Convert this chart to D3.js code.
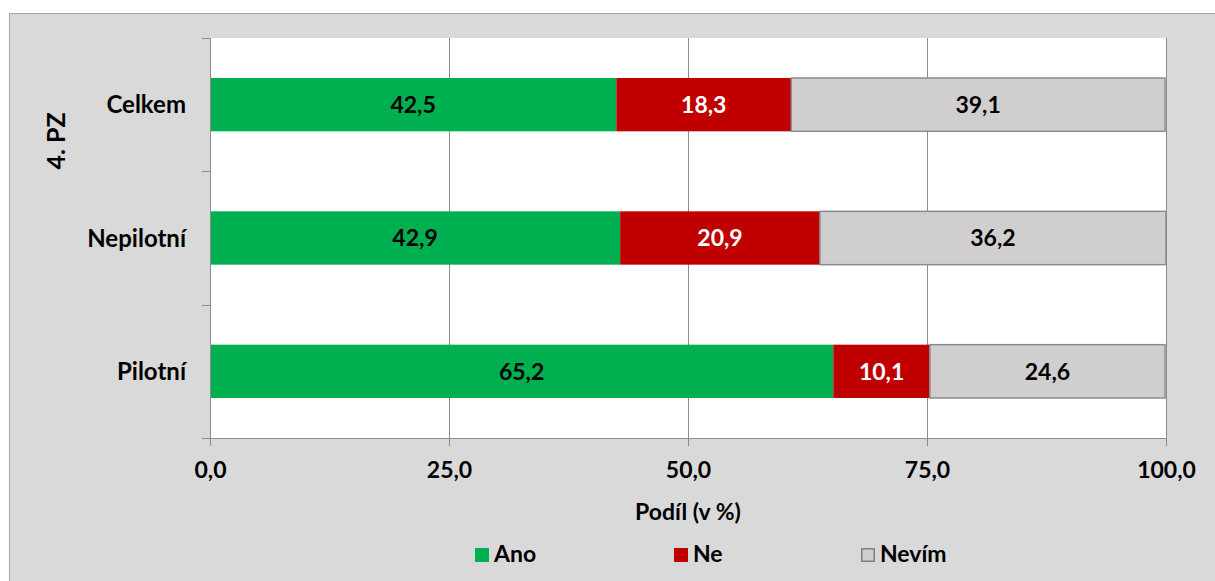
<!DOCTYPE html>
<html><head><meta charset="utf-8">
<script src="https://cdn.jsdelivr.net/npm/d3@7"></script>
<style>body{margin:0;background:#fff;}svg{display:block;font-family:Lato,"Open Sans",sans-serif;font-weight:bold;}</style>
</head><body>
<svg id="c" width="1215" height="581"></svg>
<script>
const categories = ["Celkem", "Nepilotní", "Pilotní"];
const seriesNames = ["Ano", "Ne", "Nevím"];
const ano = [42.5, 42.9, 65.2];
const ne = [18.3, 20.9, 10.1];
const nevim = [39.1, 36.2, 24.6];
const xTicks = [0, 25, 50, 75, 100];
const groupLabel = "4. PZ";
const xTitle = "Podíl (v %)";

const colors = {Ano:"#00b050", Ne:"#c00000", "Nevím":"#d0cece"};
const strokes = {Ano:"none", Ne:"none", "Nevím":"#8c8c8c"};
const labelColors = {Ano:"#000", Ne:"#fff", "Nevím":"#000"};
const FS = 23;

const svg = d3.select("#c");
svg.append("rect").attr("x",9.5).attr("y",13.5).attr("width",1220).attr("height",580)
  .attr("fill","#d9d9d9").attr("stroke","#a6a6a6");

const m = {l:210, r:1166, t:38, b:438};
const x = d3.scaleLinear().domain([0,100]).range([m.l, m.r]);
const y = d3.scaleBand().domain(categories).range([m.t, m.b]).paddingInner(0.6).paddingOuter(0.3);

svg.append("rect").attr("x",m.l).attr("y",m.t).attr("width",m.r-m.l).attr("height",m.b-m.t).attr("fill","#fff");

// gridlines
svg.append("g").selectAll("line").data(xTicks.slice(1)).join("line")
  .attr("x1",d=>x(d)+0.5).attr("x2",d=>x(d)+0.5).attr("y1",m.t).attr("y2",m.b)
  .attr("stroke","#8c8c8c").attr("stroke-width",1);

// data
const rows = categories.map((c,i)=>({cat:c, vals:[ano[i], ne[i], nevim[i]]}));
const stackData = rows.map(r=>{let acc=0; return r.vals.map((v,j)=>{const s=acc; acc+=v; return {cat:r.cat, name:seriesNames[j], x0:s, x1:acc, v}})}).flat();

const bars = svg.append("g");
bars.selectAll("rect").data(stackData).join("rect")
  .attr("x",d=>x(d.x0)).attr("width",d=>x(d.x1)-x(d.x0))
  .attr("y",d=>y(d.cat)).attr("height",y.bandwidth())
  .attr("fill",d=>colors[d.name]).attr("stroke",d=>strokes[d.name]).attr("stroke-width",1.5);
bars.selectAll("text").data(stackData).join("text")
  .attr("x",d=>(x(d.x0)+x(d.x1))/2).attr("y",d=>y(d.cat)+y.bandwidth()/2)
  .attr("dy","0.36em").attr("text-anchor","middle").attr("font-size",FS)
  .attr("fill",d=>labelColors[d.name]).text(d=>d3.format(".1f")(d.v).replace(".",","));

// axes
const axColor="#8c8c8c";
const gx = svg.append("g").attr("transform",`translate(0,${m.b})`)
  .call(d3.axisBottom(x).tickValues(xTicks).tickSize(8).tickSizeOuter(0).tickFormat(d=>d3.format(".1f")(d).replace(".",",")));
gx.select(".domain").attr("stroke",axColor).attr("d",`M${m.l},0.5H${m.r}`);
gx.selectAll(".tick line").attr("stroke",axColor);
gx.selectAll("text").attr("font-size",FS).attr("fill","#000").attr("font-family","Lato,sans-serif")
  .attr("y",40).attr("dy",0);

const yTickPos = [m.t, (m.t*2+m.b)/3, (m.t+m.b*2)/3, m.b];
svg.append("line").attr("x1",m.l+0.5).attr("x2",m.l+0.5).attr("y1",m.t).attr("y2",m.b+8).attr("stroke",axColor);
svg.append("g").selectAll("line").data(yTickPos).join("line")
  .attr("x1",m.l-8).attr("x2",m.l).attr("y1",d=>Math.round(d)+0.5).attr("y2",d=>Math.round(d)+0.5).attr("stroke",axColor);
svg.append("g").selectAll("text").data(categories).join("text")
  .attr("x",186).attr("y",d=>y(d)+y.bandwidth()/2).attr("dy","0.36em").attr("text-anchor","end")
  .attr("font-size",FS+1).attr("fill","#000").text(d=>d);

svg.append("text").attr("transform","translate(65,141) rotate(-90)").attr("text-anchor","middle")
  .attr("font-size",25).text(groupLabel);

svg.append("text").attr("x",(m.l+m.r)/2).attr("y",520).attr("text-anchor","middle").attr("font-size",FS).text(xTitle);

// legend
const legX = [475, 674, 861];
const lg = svg.append("g").selectAll("g").data(seriesNames).join("g")
  .attr("transform",(d,i)=>`translate(${legX[i]},548)`);
lg.append("rect").attr("x",d=>d==="Nevím"?0.75:0).attr("y",d=>d==="Nevím"?0.75:0)
  .attr("width",d=>d==="Nevím"?12.5:14).attr("height",d=>d==="Nevím"?12.5:14)
  .attr("fill",d=>colors[d]).attr("stroke",d=>d==="Nevím"?"#808080":"none").attr("stroke-width",1.5);
lg.append("text").attr("x",19).attr("y",14).attr("font-size",FS).text(d=>d);
</script>
</body></html>
